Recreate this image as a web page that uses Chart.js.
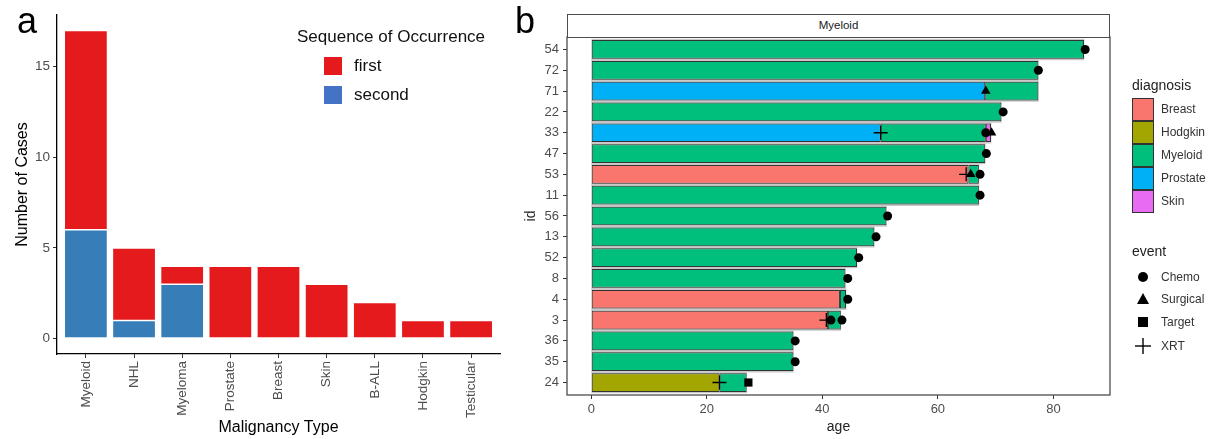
<!DOCTYPE html>
<html>
<head>
<meta charset="utf-8">
<script src="https://cdn.jsdelivr.net/npm/chart.js@4.4.1/dist/chart.umd.min.js"></script>
<style>
  body { margin: 0; background: #fff; font-family: "Liberation Sans", Arial, sans-serif; }
  #figure { position: relative; width: 1225px; height: 439px; overflow: hidden; background: #fff; }
  canvas { position: absolute; top: 0; }
  #chart-a { left: 0; }
  #chart-b { left: 520px; }
  .panel-tag { position: absolute; top: 3px; font-size: 36px; line-height: 36px; color: #000; }
  .abs { position: absolute; white-space: nowrap; }
  .legend-a { font-size: 17px; line-height: 18px; color: #111; }
  .key-a { width: 18px; height: 18px; }
  .legend-b-title { font-size: 14px; line-height: 16px; color: #222; }
  .legend-b { font-size: 12px; line-height: 14px; color: #333; }
  .key-b { width: 22px; height: 23px; box-sizing: border-box; border: 1px solid #333; left: 1132px; }
  #strip { left: 567px; top: 14px; width: 543px; height: 24px; box-sizing: border-box; border: 1.3px solid #4d4d4d;
           font-size: 11.5px; line-height: 21px; text-align: center; color: #1a1a1a; background: #fff; }
</style>
</head>
<body>
<div id="figure">
  <canvas id="chart-a" width="520" height="439"></canvas>
  <canvas id="chart-b" width="705" height="439"></canvas>

  <div class="panel-tag" style="left:17px;">a</div>
  <div class="panel-tag" style="left:515px;">b</div>

  <div class="abs legend-a" style="left:297px; top:28px;">Sequence of Occurrence</div>
  <div class="abs key-a" style="left:324px; top:57px; background:#E41A1C;"></div>
  <div class="abs legend-a" style="left:354px; top:57px;">first</div>
  <div class="abs key-a" style="left:324px; top:86px; background:#4472C4;"></div>
  <div class="abs legend-a" style="left:354px; top:86px;">second</div>

  <div id="strip" class="abs">Myeloid</div>

  <div class="abs legend-b-title" style="left:1132px; top:77px;">diagnosis</div>
  <div id="diagnosis-keys"></div>
  <div class="abs legend-b-title" style="left:1132px; top:243px;">event</div>
  <div id="event-keys"></div>
</div>

<script>
// panel a
const malignancyTypes = ['Myeloid', 'NHL', 'Myeloma', 'Prostate', 'Breast', 'Skin', 'B-ALL', 'Hodgkin', 'Testicular'];
const firstCases = [11, 4, 1, 4, 4, 3, 2, 1, 1];
const secondCases = [6, 1, 3, 0, 0, 0, 0, 0, 0];
const caseTicks = [0, 5, 10, 15];

// panel b (rows top to bottom)
const ids = ['54', '72', '71', '22', '33', '47', '53', '11', '56', '13', '52', '8', '4', '3', '36', '35', '24'];
const ageTicks = [0, 20, 40, 60, 80];

// [id, start age, end age]
const breastSegments = [['53', 0, 65.3], ['4', 0, 43.05], ['3', 0, 41.0]];
const hodgkinSegments = [['24', 0, 22.2]];
const myeloidSegments = [
  ['54', 0, 85.3], ['72', 0, 77.4], ['71', 68.2, 77.4], ['22', 0, 71.0], ['33', 50.1, 68.3],
  ['47', 0, 68.2], ['53', 65.3, 67.1], ['11', 0, 67.1], ['56', 0, 51.1], ['13', 0, 49.0],
  ['52', 0, 46.0], ['8', 0, 44.0], ['4', 43.05, 44.1], ['3', 41.0, 43.2], ['36', 0, 35.0],
  ['35', 0, 35.0], ['24', 22.2, 26.9]
];
const prostateSegments = [['71', 0, 68.2], ['33', 0, 50.1]];
const skinSegments = [['33', 68.3, 69.2]];

// [id, age]
const chemoEvents = [
  ['54', 85.5], ['72', 77.4], ['22', 71.3], ['33', 68.3], ['47', 68.4], ['53', 67.3], ['11', 67.3],
  ['56', 51.3], ['13', 49.3], ['52', 46.3], ['8', 44.4], ['4', 44.4], ['3', 41.5], ['3', 43.4],
  ['36', 35.3], ['35', 35.3]
];
const surgicalEvents = [['71', 68.3], ['33', 69.3], ['53', 65.7]];
const targetEvents = [['24', 27.2]];
const xrtEvents = [['33', 50.1], ['53', 64.9], ['3', 40.7], ['24', 22.2]];

const diagnosisNames = ['Breast', 'Hodgkin', 'Myeloid', 'Prostate', 'Skin'];
const diagnosisColors = ['#F8766D', '#A3A500', '#00BF7D', '#00B0F6', '#E76BF3'];
const eventNames = ['Chemo', 'Surgical', 'Target', 'XRT'];

const fontFamily = '"Liberation Sans", Arial, sans-serif';
const tickFontA = { family: fontFamily, size: 13.5 };
const tickFontB = { family: fontFamily, size: 13 };
const titleFont = { family: fontFamily, size: 16 };

new Chart(document.getElementById('chart-a'), {
  type: 'bar',
  data: {
    datasets: [
      {
        label: 'second',
        data: secondCases.map((v, i) => ({ x: i + 1, y: v || null })),
        backgroundColor: '#377EB8'
      },
      {
        label: 'first',
        data: firstCases.map((v, i) => ({ x: i + 1, y: v || null })),
        backgroundColor: '#E41A1C'
      }
    ]
  },
  options: {
    responsive: false,
    animation: false,
    events: [],
    layout: { padding: { left: 10, top: 15, right: 20, bottom: 0 } },
    datasets: {
      bar: { categoryPercentage: 1, barPercentage: 0.9, borderColor: 'rgba(255,255,255,0.85)', borderWidth: 0.8, borderSkipped: false }
    },
    plugins: { legend: { display: false }, tooltip: { enabled: false } },
    scales: {
      x: {
        type: 'linear',
        offset: false,
        min: 0.4,
        max: 9.6,
        stacked: true,
        afterBuildTicks: scale => { scale.ticks = malignancyTypes.map((_, i) => ({ value: i + 1 })); },
        afterFit: scale => { scale.height = 85; },
        grid: { offset: false, drawOnChartArea: false, drawTicks: true, tickLength: 4, color: '#333' },
        border: { display: true, color: '#000', width: 1.3 },
        ticks: {
          autoSkip: false, minRotation: 90, maxRotation: 90, padding: 3,
          color: '#4d4d4d', font: tickFontA,
          callback: value => malignancyTypes[value - 1]
        },
        title: { display: true, text: 'Malignancy Type', color: '#000', font: titleFont, padding: { top: 2, bottom: 2 } }
      },
      y: {
        type: 'linear',
        offset: false,
        min: -0.85,
        max: 17.85,
        stacked: true,
        afterBuildTicks: scale => { scale.ticks = caseTicks.map(v => ({ value: v })); },
        afterFit: scale => { scale.width = 47; },
        grid: { offset: false, drawOnChartArea: false, drawTicks: true, tickLength: 4, color: '#333' },
        border: { display: true, color: '#000', width: 1.3 },
        ticks: { padding: 3, color: '#4d4d4d', font: tickFontA },
        title: { display: true, text: 'Number of Cases', color: '#000', font: titleFont, padding: { top: 3, bottom: 3 } }
      }
    }
  }
});

// panel b
const rowOf = id => ids.indexOf(id) + 1;

const allSegments = [breastSegments, hodgkinSegments, myeloidSegments, prostateSegments, skinSegments];
const rowEnds = ids.map(id => Math.max(...allSegments.flat().filter(s => s[0] === id).map(s => s[2])));

const segmentDatasets = allSegments.map((segments, k) => ({
  type: 'bar',
  label: diagnosisNames[k],
  indexAxis: 'y',
  grouped: false,
  order: 1,
  data: segments.map(([id, start, end]) => ({ y: rowOf(id), x: [start, end] })),
  backgroundColor: diagnosisColors[k],
  borderColor: '#333',
  borderWidth: 1,
  borderSkipped: false,
  barPercentage: 0.9,
  categoryPercentage: 1
}));

const bandDataset = {
  type: 'bar',
  label: 'band',
  indexAxis: 'y',
  grouped: false,
  order: 2,
  data: rowEnds.map((end, i) => ({ y: i + 1, x: [0, end] })),
  backgroundColor: '#c9c9c9',
  borderWidth: 0,
  barPercentage: 1,
  categoryPercentage: 1
};

const eventDataset = (label, events, style, radius, extra) => Object.assign({
  type: 'scatter',
  label: label,
  order: 0,
  data: events.map(([id, age]) => ({ x: age, y: rowOf(id) })),
  pointStyle: style,
  pointRadius: radius,
  backgroundColor: '#000',
  borderColor: '#000',
  borderWidth: 0
}, extra || {});

const panelBorder = {
  id: 'panelBorder',
  afterDatasetsDraw(chart) {
    const { ctx, chartArea: { left, top, right, bottom } } = chart;
    ctx.save();
    ctx.strokeStyle = '#4d4d4d';
    ctx.lineWidth = 1.3;
    ctx.strokeRect(left, top, right - left, bottom - top);
    ctx.restore();
  }
};

new Chart(document.getElementById('chart-b'), {
  type: 'bar',
  data: {
    datasets: [
      eventDataset('Chemo', chemoEvents, 'circle', 4.5),
      eventDataset('Surgical', surgicalEvents, 'triangle', 5.5),
      eventDataset('Target', targetEvents, 'rect', 5.8),
      eventDataset('XRT', xrtEvents, 'cross', 7, { borderWidth: 1.3 }),
      ...segmentDatasets,
      bandDataset
    ]
  },
  plugins: [panelBorder],
  options: {
    responsive: false,
    animation: false,
    events: [],
    layout: { padding: { left: 0, top: 37, right: 115, bottom: 0 } },
    plugins: { legend: { display: false }, tooltip: { enabled: false } },
    scales: {
      x: {
        type: 'linear',
        axis: 'x',
        position: 'bottom',
        offset: false,
        min: -4.2,
        max: 89.8,
        afterBuildTicks: scale => { scale.ticks = ageTicks.map(v => ({ value: v })); },
        afterFit: scale => { scale.height = 44; },
        grid: { offset: false, drawOnChartArea: false, drawTicks: true, tickLength: 4, color: '#333' },
        border: { display: false },
        ticks: { padding: 3, color: '#4d4d4d', font: tickFontB },
        title: { display: true, text: 'age', color: '#222', font: { family: fontFamily, size: 14 }, padding: { top: 2, bottom: 3 } }
      },
      y: {
        type: 'linear',
        axis: 'y',
        position: 'left',
        offset: false,
        reverse: true,
        min: 0.4,
        max: 17.6,
        afterBuildTicks: scale => { scale.ticks = ids.map((_, i) => ({ value: i + 1 })); },
        afterFit: scale => { scale.width = 47; },
        grid: { offset: false, drawOnChartArea: false, drawTicks: true, tickLength: 4, color: '#333' },
        border: { display: false },
        ticks: { padding: 4, color: '#4d4d4d', font: tickFontB, autoSkip: false, callback: value => ids[value - 1] },
        title: { display: true, text: 'id', color: '#222', font: { family: fontFamily, size: 14 }, padding: { top: 3, bottom: 3 } }
      }
    }
  }
});

// legend of panel b
const diagnosisKeys = document.getElementById('diagnosis-keys');
diagnosisNames.forEach((name, i) => {
  const top = 98 + i * 23;
  diagnosisKeys.insertAdjacentHTML('beforeend',
    `<div class="abs key-b" style="top:${top}px; background:${diagnosisColors[i]};"></div>` +
    `<div class="abs legend-b" style="left:1161px; top:${top + 4}px;">${name}</div>`);
});

const eventSymbols = [
  '<circle cx="8" cy="8" r="5" fill="#000"/>',
  '<polygon points="8,2 14,13 2,13" fill="#000"/>',
  '<rect x="3" y="3" width="10" height="10" fill="#000"/>',
  '<line x1="0" y1="8" x2="16" y2="8" stroke="#000" stroke-width="1.4"/><line x1="8" y1="0" x2="8" y2="16" stroke="#000" stroke-width="1.4"/>'
];
const eventKeys = document.getElementById('event-keys');
eventNames.forEach((name, i) => {
  const centre = [277, 299, 322, 346][i];
  eventKeys.insertAdjacentHTML('beforeend',
    `<svg class="abs" style="left:1135px; top:${centre - 8}px;" width="16" height="16">${eventSymbols[i]}</svg>` +
    `<div class="abs legend-b" style="left:1161px; top:${centre - 7}px;">${name}</div>`);
});
</script>
</body>
</html>
